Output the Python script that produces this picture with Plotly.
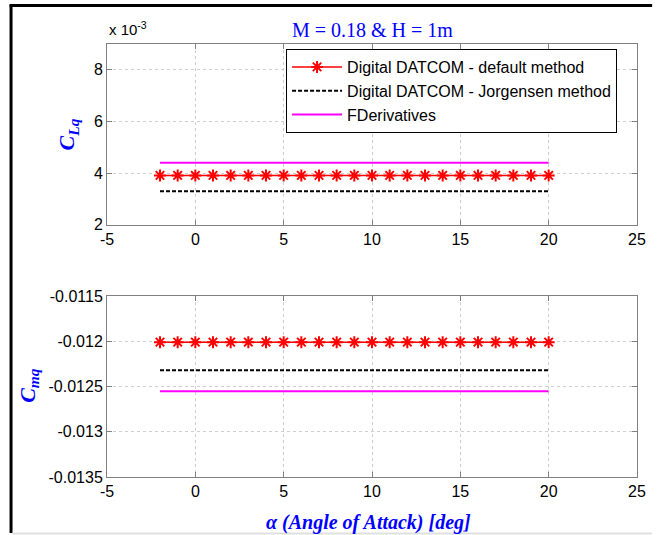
import plotly.graph_objects as go

# ---------------- data ----------------
alpha = [-2, -1, 0, 1, 2, 3, 4, 5, 6, 7, 8, 9, 10, 11, 12, 13, 14, 15, 16, 17, 18, 19, 20]
n = len(alpha)

cLq_default = [0.00391] * n
cLq_jorgensen = [0.00330] * n
cLq_fderiv = [0.00440] * n

cmq_default = [-0.01201] * n
cmq_jorgensen = [-0.01232] * n
cmq_fderiv = [-0.012552] * n

series_names = ["Digital DATCOM - default method",
                "Digital DATCOM - Jorgensen method",
                "FDerivatives"]

x_tickvals = [-5, 0, 5, 10, 15, 20, 25]
x_ticktext = ["-5", "0", "5", "10", "15", "20", "25"]
y1_tickvals = [2, 4, 6, 8]
y1_ticktext = ["2", "4", "6", "8"]
y2_tickvals = [-0.0135, -0.013, -0.0125, -0.012, -0.0115]
y2_ticktext = ["-0.0135", "-0.013", "-0.0125", "-0.012", "-0.0115"]

scale1 = 1e3  # top axis shown in units of 10^-3

# ---------------- figure ----------------
W, H = 658, 535
L, R, T, B = 107, 15.3, 44, 58
pw = W - L - R
ph = H - T - B


def px_x(p):
    return (p - L) / pw


def px_y(p):
    return (H - B - p) / ph


fig = go.Figure()

red = dict(color="#ff0000", width=1.5)
blk = dict(color="#000000", width=2, dash="4px,2px")
mag = dict(color="#ff00ff", width=2)
marker = dict(symbol="asterisk-open", size=10, color="#ff0000",
              line=dict(color="#ff0000", width=2))

# top plot
fig.add_trace(go.Scatter(x=alpha, y=[v * scale1 for v in cLq_default], mode="lines+markers",
                         line=red, marker=marker, name=series_names[0],
                         xaxis="x", yaxis="y"))
fig.add_trace(go.Scatter(x=alpha, y=[v * scale1 for v in cLq_jorgensen], mode="lines",
                         line=blk, name=series_names[1], xaxis="x", yaxis="y"))
fig.add_trace(go.Scatter(x=alpha, y=[v * scale1 for v in cLq_fderiv], mode="lines",
                         line=mag, name=series_names[2], xaxis="x", yaxis="y"))
# bottom plot
fig.add_trace(go.Scatter(x=alpha, y=cmq_default, mode="lines+markers", line=red,
                         marker=marker, showlegend=False, xaxis="x2", yaxis="y2"))
fig.add_trace(go.Scatter(x=alpha, y=cmq_jorgensen, mode="lines", line=blk,
                         showlegend=False, xaxis="x2", yaxis="y2"))
fig.add_trace(go.Scatter(x=alpha, y=cmq_fderiv, mode="lines", line=mag,
                         showlegend=False, xaxis="x2", yaxis="y2"))

axis_common = dict(
    showline=True, linecolor="#808080", linewidth=1, mirror="ticks",
    ticks="inside", ticklen=5, tickcolor="#808080",
    showgrid=True, gridcolor="#cfcfcf", griddash="dot", gridwidth=1,
    zeroline=False,
    tickfont=dict(family="Liberation Sans, Arial", size=16, color="black"),
)

top_bottom = px_y(224.7)
bot_top = px_y(296)

fig.update_layout(
    width=W, height=H,
    margin=dict(l=L, r=R, t=T, b=B),
    paper_bgcolor="white", plot_bgcolor="white",
    xaxis=dict(domain=[0, 1], anchor="y", range=[-5, 25], tickmode="array",
               tickvals=x_tickvals, ticktext=x_ticktext, **axis_common),
    yaxis=dict(domain=[top_bottom, 1], anchor="x", range=[2, 9], tickmode="array",
               tickvals=y1_tickvals, ticktext=y1_ticktext, **axis_common),
    xaxis2=dict(domain=[0, 1], anchor="y2", range=[-5, 25], tickmode="array",
                tickvals=x_tickvals, ticktext=x_ticktext, **axis_common),
    yaxis2=dict(domain=[0, bot_top], anchor="x2", range=[-0.0135, -0.0115], tickmode="array",
                tickvals=y2_tickvals, ticktext=y2_ticktext, **axis_common),
    showlegend=True,
    legend=dict(x=px_x(288), y=px_y(49), xanchor="left", yanchor="top",
                bgcolor="white", bordercolor="black", borderwidth=1,
                font=dict(family="Liberation Sans, Arial", size=16, color="black"),
                tracegroupgap=0, itemwidth=50),
)

serif = "Liberation Serif, Times New Roman"
annotations = [
    dict(text="M = 0.18 &amp; H = 1m", x=0.5, y=px_y(30), xref="paper", yref="paper",
         showarrow=False, xanchor="center", yanchor="middle",
         font=dict(family=serif, size=20, color="#0000ff")),
    dict(text="x 10<sup>-3</sup>", x=0.0, y=px_y(29), xref="paper", yref="paper",
         showarrow=False, xanchor="left", yanchor="middle",
         font=dict(family="Liberation Sans, Arial", size=15, color="black")),
    dict(text="<b><i>C<sub>Lq</sub></i></b>", x=px_x(68), y=px_y(134), xref="paper", yref="paper",
         showarrow=False, xanchor="center", yanchor="middle", textangle=-90,
         font=dict(family=serif, size=22, color="#0000ff")),
    dict(text="<b><i>C<sub>mq</sub></i></b>", x=px_x(28), y=px_y(385), xref="paper", yref="paper",
         showarrow=False, xanchor="center", yanchor="middle", textangle=-90,
         font=dict(family=serif, size=22, color="#0000ff")),
    dict(text="<b><i>α (Angle of Attack) [deg]</i></b>", x=px_x(371), y=px_y(522),
         xref="paper", yref="paper", showarrow=False, xanchor="center", yanchor="middle",
         font=dict(family=serif, size=20, color="#0000ff")),
]
fig.update_layout(annotations=annotations)

# outer frame of the screenshot (left & top black edges, light bottom line)
fig.add_shape(type="line", xref="paper", yref="paper",
              x0=px_x(10), x1=px_x(10), y0=px_y(5), y1=px_y(533),
              line=dict(color="black", width=3))
fig.add_shape(type="line", xref="paper", yref="paper",
              x0=px_x(8.5), x1=px_x(658), y0=px_y(5.5), y1=px_y(5.5),
              line=dict(color="black", width=3))
fig.add_shape(type="line", xref="paper", yref="paper",
              x0=px_x(11), x1=px_x(658), y0=px_y(533.5), y1=px_y(533.5),
              line=dict(color="#e0e0e0", width=2))

# remove the default page margin so the figure sits at the window's top-left corner
fig.write_html("out.html",
               config={"displayModeBar": False},
               post_script="document.body.style.margin='0px';document.body.style.overflow='hidden';")
